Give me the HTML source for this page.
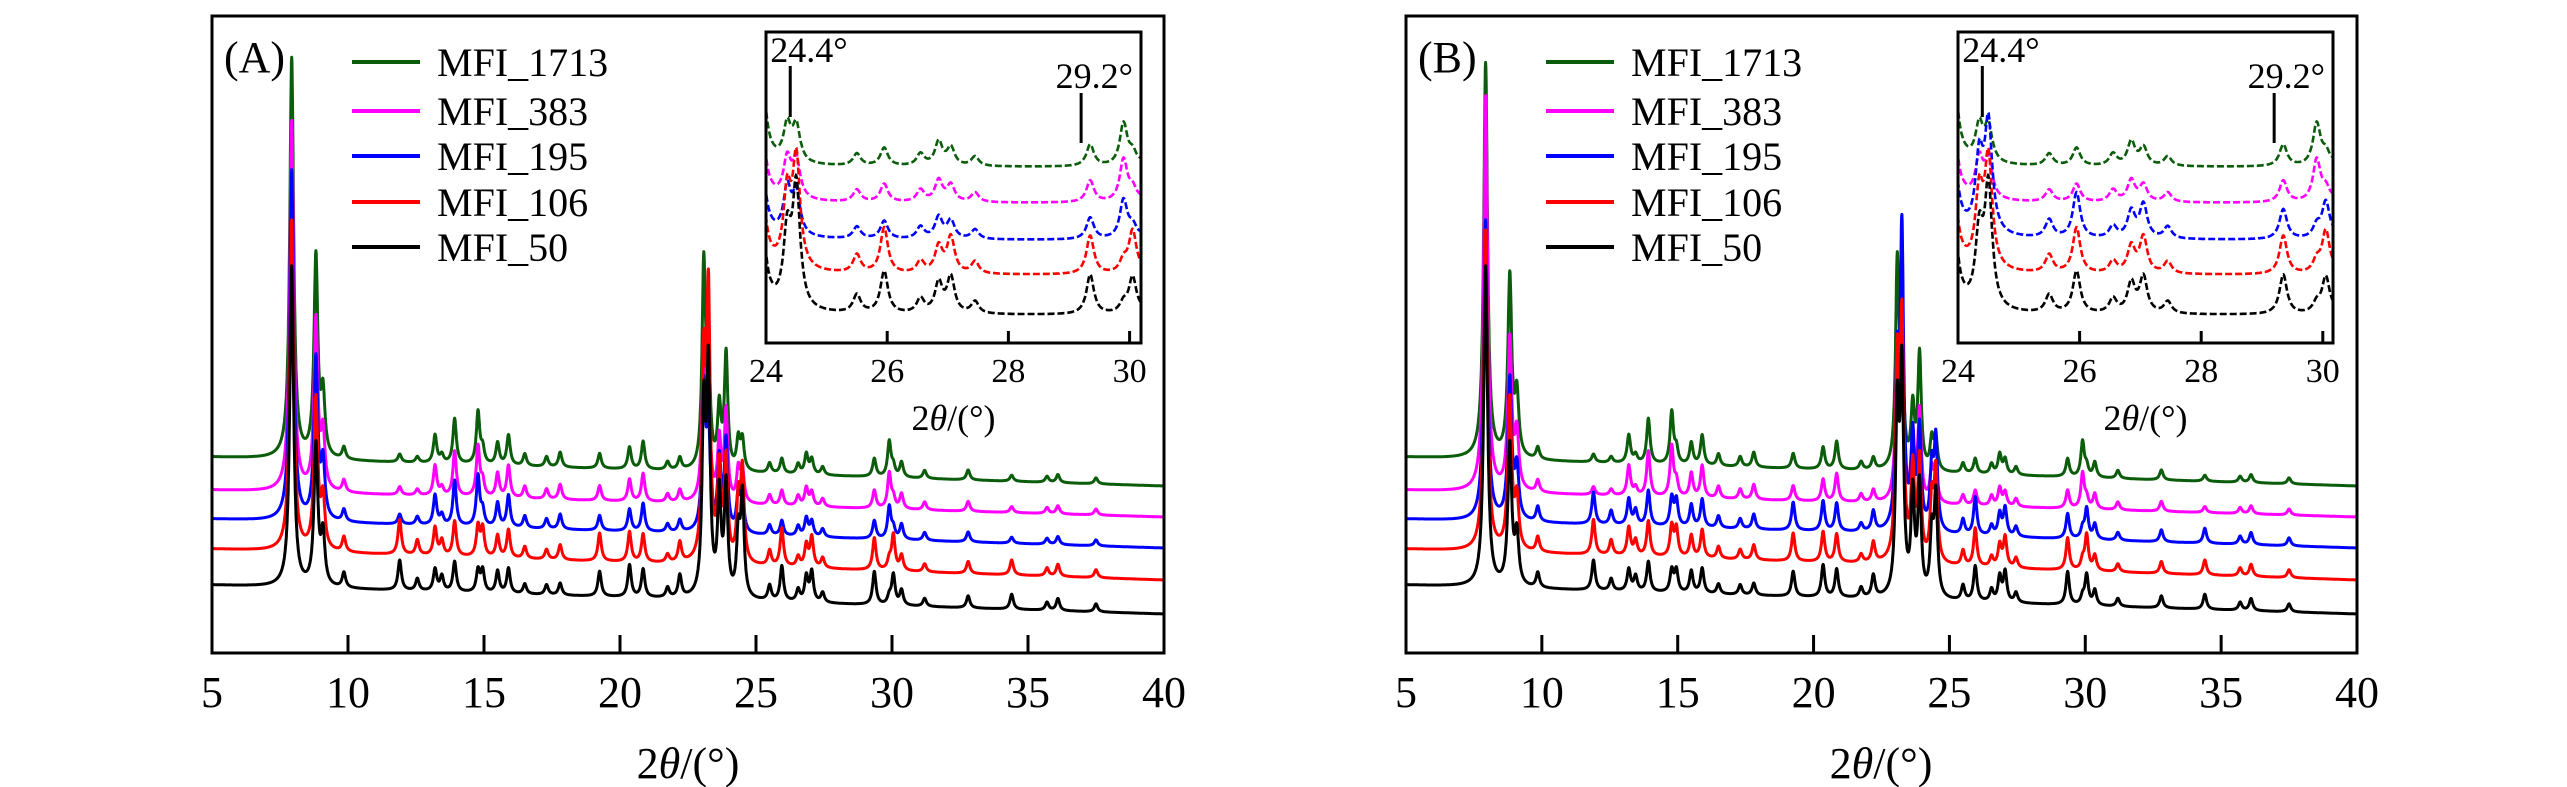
<!DOCTYPE html>
<html><head><meta charset="utf-8"><title>XRD patterns MFI</title>
<style>
html,body{margin:0;padding:0;background:#fff;}
svg{display:block;font-family:"Liberation Serif",serif;}
text{font-family:"Liberation Serif",serif;}
</style></head>
<body>
<svg id="chart" width="2567" height="787" viewBox="0 0 2567 787"></svg>
<script>
// ---------- data ----------
const seriesNames = ["MFI_1713","MFI_383","MFI_195","MFI_106","MFI_50"];
const seriesColors = ["#0b5d0b","#ff00ff","#0000ff","#ff0000","#000000"];
const peakPos = [7.93,8.82,9.08,9.85,11.9,12.55,13.2,13.45,13.92,14.78,14.95,15.5,15.9,16.5,17.3,17.8,19.25,20.35,20.85,21.75,22.2,23.08,23.25,23.65,23.9,24.35,24.5,25.5,25.95,26.55,26.85,27.05,27.45,29.35,29.9,30.05,30.35,31.2,32.8,34.4,35.7,36.1,37.5];
// peak heights per series, panel A
const hA1713 = [400,200,60,12,8,6,28,8,45,52,15,22,30,12,10,15,15,22,28,8,12,200,110,60,115,30,30,10,15,10,20,15,8,18,35,10,15,8,10,6,6,8,6];
const hA383  = [370,170,55,12,8,6,30,8,45,50,15,24,32,12,10,15,15,22,28,8,12,150,100,60,90,32,32,10,15,10,18,14,8,18,35,10,15,8,10,6,6,8,6];
const hA195  = [350,160,55,12,10,8,30,10,45,50,15,24,32,12,10,15,15,22,28,8,12,140,100,70,90,38,35,10,15,10,18,15,8,18,32,10,15,8,10,6,6,8,6];
const hA106  = [330,150,50,15,35,15,28,15,35,30,28,22,28,12,10,15,28,30,28,8,20,190,260,90,100,60,90,15,38,10,22,30,10,32,10,35,15,8,12,15,8,12,8];
const hA50   = [320,140,50,15,30,12,22,15,30,22,22,22,25,10,10,12,25,32,28,10,22,180,220,100,110,60,100,15,35,12,25,30,10,33,8,30,15,8,12,15,8,12,8];
// panel B
const hB1713 = [395,180,60,12,8,6,28,8,45,52,15,22,30,12,10,15,15,22,28,8,12,200,110,60,115,30,30,10,15,10,20,15,8,18,35,10,15,8,10,6,6,8,6];
const hB383  = [395,150,55,12,8,6,30,8,45,50,15,24,32,12,10,15,15,22,28,8,12,150,100,60,90,32,32,10,15,10,18,14,8,18,35,10,15,8,10,6,6,8,6];
const hB195  = [300,140,50,15,32,14,26,15,35,28,26,22,28,12,10,15,28,30,28,8,20,150,290,90,100,60,90,15,38,10,22,28,10,25,10,30,15,8,12,15,8,12,8];
const hB106  = [320,150,50,15,35,15,28,15,35,30,28,22,28,12,10,15,28,30,28,8,20,190,230,90,100,60,90,15,38,10,22,30,10,32,10,35,15,8,12,15,8,12,8];
const hB50   = [320,140,50,15,30,12,22,15,30,22,22,22,25,10,10,12,25,32,28,10,22,180,220,100,110,60,100,15,35,12,25,30,10,33,8,30,15,8,12,15,8,12,8];
// vertical offsets (intensity units) at 5° and at 40°
const offsetStart = [196,163,134,104,68];
const offsetEnd   = [167,136,105,73,39];
const insetOffset = [176,140,103,68,28];
const xTicks = [5,10,15,20,25,30,35,40];
const insetTicks = [24,26,28,30];

// ---------- helpers ----------
const NS="http://www.w3.org/2000/svg";
const FONT='Liberation Serif, serif';
const svg=document.getElementById('chart');
function mk(tag,attrs,parent){const e=document.createElementNS(NS,tag);for(const k in attrs)e.setAttribute(k,attrs[k]);if(tag==='text')e.setAttribute('font-family',FONT);(parent||svg).appendChild(e);return e;}
function intensity(x,h){let s=0;for(let i=0;i<peakPos.length;i++){const w=(peakPos[i]<9.5)?0.085:0.075;const d=(x-peakPos[i])/w;s+=h[i]/(1+d*d);}return s;}

function panel(id,L,R,T,B,label,heights,inset,legX,xlabX){
  const g=mk('g',{});
  
  
  const xs=v=>L+(v-5)*(R-L)/35;
  const ys=v=>B-v;
  const clipId='clip'+id;
  const cp=mk('clipPath',{id:clipId},g);mk('rect',{x:L,y:T,width:R-L,height:B-T},cp);
  for(let s=0;s<5;s++){
    let d='';
    for(let x=5;x<=40.0001;x+=0.01){
      const off=offsetStart[s]+(offsetEnd[s]-offsetStart[s])*(x-5)/35;
      const v=off+intensity(x,heights[s]);
      d+=(d?'L':'M')+xs(x).toFixed(1)+','+ys(v).toFixed(1);
    }
    const p=mk('path',{d:d,fill:'none',stroke:seriesColors[s],'stroke-width':3,'stroke-linejoin':'round','clip-path':'url(#'+clipId+')'},g);
    
    
  }
  const fr=mk('rect',{x:L,y:T,width:R-L,height:B-T,fill:'none',stroke:'#000','stroke-width':3},g);
  
  
  xTicks.forEach(t=>{
    if(t>5&&t<40){const tk=mk('line',{x1:xs(t),x2:xs(t),y1:B,y2:B-18,stroke:'#000','stroke-width':3},g);
    
    }
    const tl=mk('text',{x:xs(t),y:707,'font-size':44,'text-anchor':'middle'},g);tl.textContent=t;
    
    
  });
  const xl=mk('text',{x:xlabX,y:778,'font-size':44,'text-anchor':'middle'},g);
  xl.innerHTML='2<tspan font-style="italic">θ</tspan>/(°)';
  
  
  const pl=mk('text',{x:L+12,y:72,'font-size':44},g);pl.textContent=label;
  
  
  const legRows=[62,111,156,202,247];
  for(let s=0;s<5;s++){
    const lg=mk('g',{},g);
    
    
    mk('line',{x1:legX,x2:legX+68,y1:legRows[s],y2:legRows[s],stroke:seriesColors[s],'stroke-width':4},lg);
    const t=mk('text',{x:legX+85,y:legRows[s]+14,'font-size':40},lg);t.textContent=seriesNames[s];
  }
  const iL=inset.L,iR=inset.R,iT=32,iB=343;
  const ixs=v=>iL+(v-24)*inset.k;
  const iys=v=>iB-v;
  const ig=mk('g',{},g);
  
  
  const icp=mk('clipPath',{id:clipId+'i'},ig);mk('rect',{x:iL,y:iT,width:iR-iL,height:iB-iT},icp);
  for(let s=0;s<5;s++){
    let d='';
    for(let x=23.95;x<=30.2;x+=0.005){
      const v=insetOffset[s]+1.2*intensity(x,heights[s]);
      d+=(d?'L':'M')+ixs(x).toFixed(1)+','+iys(v).toFixed(1);
    }
    const p=mk('path',{d:d,fill:'none',stroke:seriesColors[s],'stroke-width':2.6,'stroke-dasharray':'7 3','clip-path':'url(#'+clipId+'i)'},ig);
    
    
  }
  mk('rect',{x:iL,y:iT,width:iR-iL,height:iB-iT,fill:'none',stroke:'#000','stroke-width':3},ig);
  insetTicks.forEach(t=>{
    if(t>24) mk('line',{x1:ixs(t),x2:ixs(t),y1:iB,y2:iB-12,stroke:'#000','stroke-width':3},ig);
    const tl=mk('text',{x:ixs(t),y:382,'font-size':34,'text-anchor':'middle'},ig);tl.textContent=t;
    
    
  });
  const il=mk('text',{x:(iL+iR)/2,y:430,'font-size':36,'text-anchor':'middle'},ig);
  il.innerHTML='2<tspan font-style="italic">θ</tspan>/(°)';
  
  
  const a1=mk('text',{x:ixs(24.07),y:62,'font-size':36},ig);a1.textContent='24.4°';
  
  
  mk('line',{x1:ixs(24.4),x2:ixs(24.4),y1:66,y2:117,stroke:'#000','stroke-width':3},ig);
  const a2=mk('text',{x:iR-8,y:88,'font-size':36,'text-anchor':'end'},ig);a2.textContent='29.2°';
  
  
  mk('line',{x1:ixs(29.2),x2:ixs(29.2),y1:93,y2:143,stroke:'#000','stroke-width':3},ig);
}

panel('a',212,1164,16,653,'(A)',[hA1713,hA383,hA195,hA106,hA50],{L:766,R:1141,k:60.6},352,688);
panel('b',1406,2357,16,653,'(B)',[hB1713,hB383,hB195,hB106,hB50],{L:1958,R:2333,k:60.8},1546,1881);
</script>
</body></html>
